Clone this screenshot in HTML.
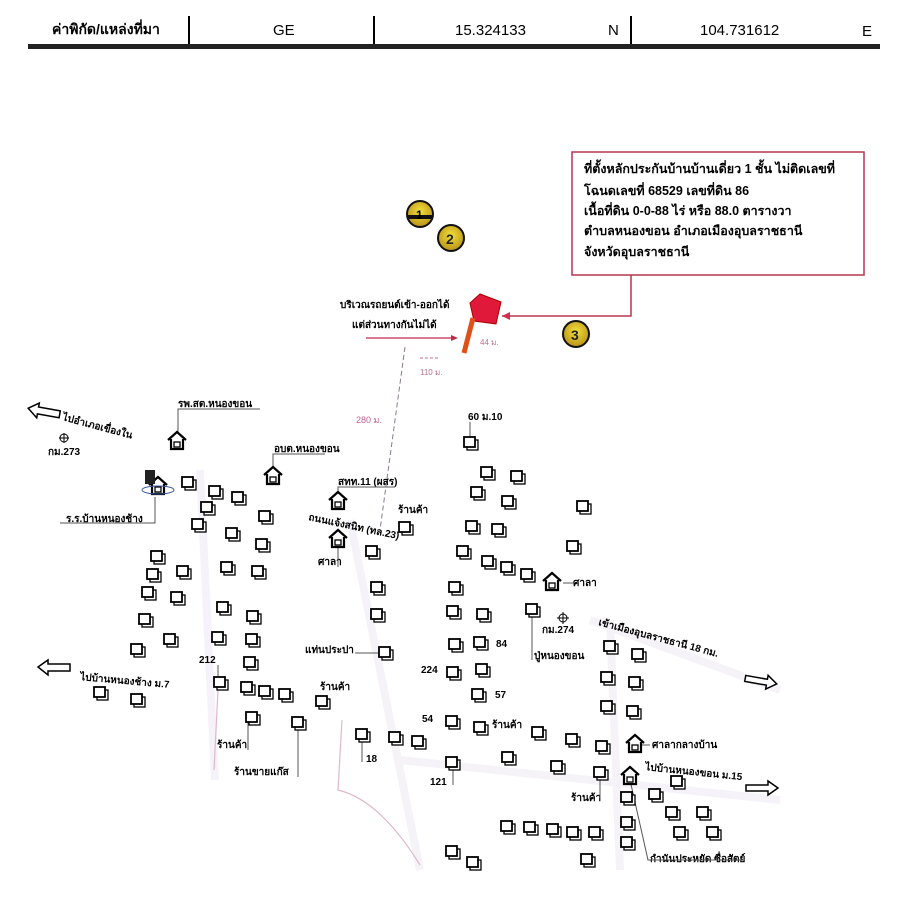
<!DOCTYPE html>
<html><head><meta charset="utf-8">
<style>
html,body{margin:0;padding:0;background:#fff;}
svg{display:block;font-family:"Liberation Sans","DejaVu Sans",sans-serif;}
.b{font-weight:bold;}
</style></head><body>
<svg width="900" height="919" viewBox="0 0 900 919" xmlns="http://www.w3.org/2000/svg">
<defs>
<symbol id="h" overflow="visible">
<rect x="-3" y="-3" width="11" height="10" fill="#fff" stroke="#000" stroke-width="1.3"/>
<rect x="-6" y="-6" width="11" height="10" fill="#fff" stroke="#000" stroke-width="1.8"/>
</symbol>
<symbol id="hs" overflow="visible">
<path d="M-9,-2 L0,-10 L9,-2 M-6,-3 V7 H6 V-3" fill="#fff" stroke="#000" stroke-width="2.2"/>
<rect x="-3" y="0" width="6" height="5" fill="none" stroke="#000" stroke-width="1.3"/>
</symbol>
<radialGradient id="yg" cx="50%" cy="40%" r="60%">
<stop offset="0" stop-color="#f3df3a"/><stop offset="1" stop-color="#b9921a"/>
</radialGradient>
</defs>

<!-- header -->
<g font-size="15">
<text x="52" y="34" class="b" font-size="14">ค่าพิกัด/แหล่งที่มา</text>
<text x="273" y="35">GE</text>
<text x="455" y="35">15.324133</text>
<text x="608" y="35">N</text>
<text x="700" y="35">104.731612</text>
<text x="862" y="36">E</text>
</g>
<line x1="189" y1="16" x2="189" y2="46" stroke="#000" stroke-width="2"/>
<line x1="374" y1="16" x2="374" y2="46" stroke="#000" stroke-width="2"/>
<line x1="631" y1="16" x2="631" y2="49" stroke="#000" stroke-width="2"/>
<rect x="28" y="44" width="852" height="5" fill="#222"/>

<!-- faint roads -->
<g stroke="#f1eef6" stroke-width="8" fill="none" opacity="0.7">
<path d="M200,470 L215,780"/>
<path d="M350,520 L420,870"/>
<path d="M610,620 L620,870"/>
<path d="M400,760 L780,800"/>
<path d="M590,620 L780,690"/>
</g>
<path d="M342,720 L338,790 Q380,800 420,865" stroke="#e0b8cc" stroke-width="1.2" fill="none"/>
<path d="M218,690 L214,770" stroke="#e0b8cc" stroke-width="1.2" fill="none"/>

<!-- info box -->
<rect x="572" y="152" width="292" height="123" fill="#fff" stroke="#b5364f" stroke-width="1.5"/>
<g font-size="12.5" class="b">
<text x="584" y="173">ที่ตั้งหลักประกันบ้านบ้านเดี่ยว 1 ชั้น ไม่ติดเลขที่</text>
<text x="584" y="195">โฉนดเลขที่ 68529 เลขที่ดิน 86</text>
<text x="584" y="215">เนื้อที่ดิน 0-0-88 ไร่ หรือ 88.0 ตารางวา</text>
<text x="584" y="235">ตำบลหนองขอน  อำเภอเมืองอุบลราชธานี</text>
<text x="584" y="256">จังหวัดอุบลราชธานี</text>
</g>
<path d="M631,275 V316 H502" stroke="#b5364f" stroke-width="1.5" fill="none"/>
<path d="M502,316 l8,-4 v8z" fill="#d0304f"/>

<!-- circles -->
<circle cx="420" cy="214" r="13" fill="url(#yg)" stroke="#111" stroke-width="2"/>
<rect x="407" y="215" width="26" height="4" fill="#111"/>
<text x="416" y="219" font-size="12" class="b">1</text>
<circle cx="451" cy="238" r="13" fill="url(#yg)" stroke="#111" stroke-width="2"/>
<text x="446" y="244" font-size="14" class="b" fill="#222">2</text>
<circle cx="576" cy="334" r="13" fill="url(#yg)" stroke="#111" stroke-width="2"/>
<text x="571" y="340" font-size="14" class="b" fill="#222">3</text>

<!-- target -->
<polygon points="470,303 480,294 501,302 496,324 474,321" fill="#e0193a" stroke="#a00" stroke-width="1"/>
<line x1="473" y1="318" x2="464" y2="353" stroke="#e0501a" stroke-width="5"/>
<g font-size="10" class="b">
<text x="340" y="308">บริเวณรถยนต์เข้า-ออกได้</text>
<text x="352" y="328">แต่ส่วนทางกันไม่ได้</text>
</g>
<line x1="366" y1="338" x2="455" y2="338" stroke="#c0294a" stroke-width="1.3"/>
<path d="M458,338 l-7,-3 v6z" fill="#c0294a"/>
<text x="480" y="345" font-size="8" fill="#c07090">44 ม.</text>
<text x="420" y="375" font-size="8" fill="#c07090">110 ม.</text>
<path d="M420,358 L440,358" stroke="#c07090" stroke-dasharray="3,2" fill="none"/>
<path d="M405,347 L380,530" stroke="#8a7a90" stroke-width="1" stroke-dasharray="5,3" fill="none"/>
<text x="356" y="423" font-size="9" fill="#c06090">280 ม.</text>

<!-- arrows -->
<g fill="#fff" stroke="#000" stroke-width="1.5">
<path d="M28,411 l10,-7 v4 h22 v7 h-22 v4z" transform="rotate(10 44 411)"/>
<path d="M38,667 l10,-7 v4 h22 v7 h-22 v4z"/>
<path d="M745,678 h22 v-4 l10,7 l-10,7 v-4 h-22z" transform="rotate(10 760 681)"/>
<path d="M746,785 h22 v-4 l10,7 l-10,7 v-4 h-22z"/>
</g>
<g font-size="10" class="b">
<text x="62" y="420" transform="rotate(15 62 420)">ไปอำเภอเขื่องใน</text>
<text x="48" y="455">กม.273</text>
<text x="80" y="680" transform="rotate(5 80 680)">ไปบ้านหนองช้าง ม.7</text>
<text x="598" y="625" transform="rotate(15 598 625)">เข้าเมืองอุบลราชธานี 18 กม.</text>
<text x="645" y="770" transform="rotate(6 645 770)">ไปบ้านหนองขอน ม.15</text>
<text x="178" y="407">รพ.สต.หนองขอน</text>
<text x="274" y="452">อบต.หนองขอน</text>
<text x="338" y="485">สทท.11 (ผสร)</text>
<text x="398" y="513">ร้านค้า</text>
<text x="308" y="520" transform="rotate(12 308 520)">ถนนแจ้งสนิท (ทล.23)</text>
<text x="318" y="565">ศาลา</text>
<text x="66" y="522">ร.ร.บ้านหนองช้าง</text>
<text x="468" y="420">60 ม.10</text>
<text x="573" y="586">ศาลา</text>
<text x="542" y="633">กม.274</text>
<text x="534" y="659">ปู่หนองขอน</text>
<text x="496" y="647">84</text>
<text x="421" y="673">224</text>
<text x="495" y="698">57</text>
<text x="422" y="722">54</text>
<text x="492" y="728">ร้านค้า</text>
<text x="430" y="785">121</text>
<text x="366" y="762">18</text>
<text x="305" y="653">แท่นประปา</text>
<text x="199" y="663">212</text>
<text x="320" y="690">ร้านค้า</text>
<text x="217" y="748">ร้านค้า</text>
<text x="234" y="775">ร้านขายแก๊ส</text>
<text x="652" y="748">ศาลากลางบ้าน</text>
<text x="571" y="801">ร้านค้า</text>
<text x="650" y="862">กำนันประหยัด ซื่อสัตย์</text>
</g>
<g stroke="#000" stroke-width="1" fill="none">
<path d="M64,433 v10 M59,438 h10"/><circle cx="64" cy="438" r="4"/>
<path d="M563,612 v12 M557,618 h12"/><circle cx="563" cy="618" r="4"/>
</g>

<!-- label leaders -->
<g stroke="#555" stroke-width="1" fill="none">
<path d="M178,433 V409 H260"/>
<path d="M273,470 V454 H325"/>
<path d="M338,495 V487 H395"/>
<path d="M155,497 V523 H60"/>
<path d="M338,548 V567"/>
<path d="M470,437 V422"/>
<path d="M532,615 V660"/>
<path d="M380,653 H355"/>
<path d="M218,683 V665"/>
<path d="M248,718 V750"/>
<path d="M298,723 V777"/>
<path d="M362,735 V762"/>
<path d="M453,763 V785"/>
<path d="M600,773 V798"/>
<path d="M630,780 L648,860 H745"/>
<path d="M642,745 H650"/>
<path d="M563,583 H573"/>
</g>

<!-- special buildings -->
<use href="#hs" x="177" y="442"/>
<use href="#hs" x="273" y="477"/>
<use href="#hs" x="338" y="502"/>
<use href="#hs" x="338" y="540"/>
<use href="#hs" x="158" y="487"/>
<rect x="145" y="470" width="10" height="14" fill="#222"/>
<ellipse cx="158" cy="490" rx="16" ry="4" fill="none" stroke="#3a5a9a" stroke-width="1"/>
<use href="#hs" x="552" y="583"/>
<use href="#hs" x="635" y="745"/>
<use href="#hs" x="630" y="777"/>

<!-- houses -->
<g>
<use href="#h" x="188" y="483"/><use href="#h" x="215" y="492"/><use href="#h" x="238" y="498"/>
<use href="#h" x="207" y="508"/><use href="#h" x="265" y="517"/><use href="#h" x="198" y="525"/>
<use href="#h" x="232" y="534"/><use href="#h" x="262" y="545"/><use href="#h" x="157" y="557"/>
<use href="#h" x="183" y="572"/><use href="#h" x="227" y="568"/><use href="#h" x="258" y="572"/>
<use href="#h" x="153" y="575"/><use href="#h" x="148" y="593"/><use href="#h" x="177" y="598"/>
<use href="#h" x="223" y="608"/><use href="#h" x="253" y="617"/><use href="#h" x="145" y="620"/>
<use href="#h" x="170" y="640"/><use href="#h" x="218" y="638"/><use href="#h" x="252" y="640"/>
<use href="#h" x="137" y="650"/><use href="#h" x="250" y="663"/><use href="#h" x="220" y="683"/>
<use href="#h" x="247" y="688"/><use href="#h" x="265" y="692"/><use href="#h" x="285" y="695"/>
<use href="#h" x="322" y="702"/><use href="#h" x="100" y="693"/><use href="#h" x="137" y="700"/>
<use href="#h" x="252" y="718"/><use href="#h" x="298" y="723"/><use href="#h" x="362" y="735"/>
<use href="#h" x="395" y="738"/><use href="#h" x="418" y="742"/><use href="#h" x="405" y="528"/>
<use href="#h" x="372" y="552"/><use href="#h" x="377" y="588"/><use href="#h" x="377" y="615"/>
<use href="#h" x="385" y="653"/>
<use href="#h" x="470" y="443"/><use href="#h" x="487" y="473"/><use href="#h" x="517" y="477"/>
<use href="#h" x="477" y="493"/><use href="#h" x="508" y="502"/><use href="#h" x="583" y="507"/>
<use href="#h" x="472" y="527"/><use href="#h" x="498" y="530"/><use href="#h" x="573" y="547"/>
<use href="#h" x="463" y="552"/><use href="#h" x="488" y="562"/><use href="#h" x="507" y="568"/>
<use href="#h" x="527" y="575"/><use href="#h" x="455" y="588"/><use href="#h" x="532" y="610"/>
<use href="#h" x="453" y="612"/><use href="#h" x="483" y="615"/><use href="#h" x="455" y="645"/>
<use href="#h" x="480" y="643"/><use href="#h" x="453" y="673"/><use href="#h" x="482" y="670"/>
<use href="#h" x="610" y="647"/><use href="#h" x="638" y="655"/><use href="#h" x="478" y="695"/>
<use href="#h" x="607" y="678"/><use href="#h" x="635" y="683"/><use href="#h" x="452" y="722"/>
<use href="#h" x="480" y="728"/><use href="#h" x="607" y="707"/><use href="#h" x="633" y="712"/>
<use href="#h" x="538" y="733"/><use href="#h" x="572" y="740"/><use href="#h" x="602" y="747"/>
<use href="#h" x="452" y="763"/><use href="#h" x="508" y="758"/><use href="#h" x="557" y="767"/>
<use href="#h" x="600" y="773"/><use href="#h" x="677" y="782"/><use href="#h" x="627" y="798"/>
<use href="#h" x="655" y="795"/><use href="#h" x="672" y="813"/><use href="#h" x="703" y="813"/>
<use href="#h" x="627" y="823"/><use href="#h" x="680" y="833"/><use href="#h" x="713" y="833"/>
<use href="#h" x="627" y="843"/><use href="#h" x="507" y="827"/><use href="#h" x="530" y="828"/>
<use href="#h" x="553" y="830"/><use href="#h" x="573" y="833"/><use href="#h" x="595" y="833"/>
<use href="#h" x="587" y="860"/><use href="#h" x="452" y="852"/><use href="#h" x="473" y="863"/>
</g>
</svg>
</body></html>
